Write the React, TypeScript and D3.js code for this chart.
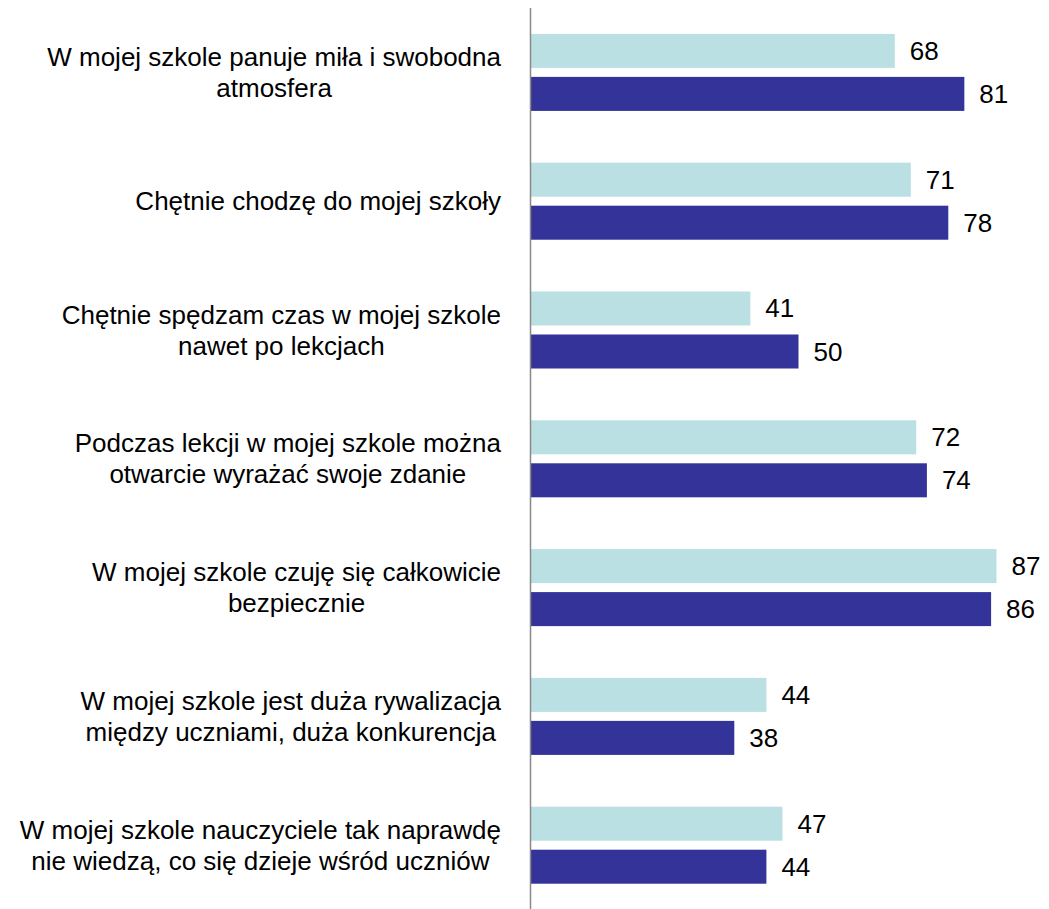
import React, { useEffect, useRef } from "react";
import * as d3 from "d3";

const categories: string[][] = [
  ["W mojej szkole panuje miła i swobodna", "atmosfera"],
  ["Chętnie chodzę do mojej szkoły"],
  ["Chętnie spędzam czas w mojej szkole", "nawet po lekcjach"],
  ["Podczas lekcji w mojej szkole można", "otwarcie wyrażać swoje zdanie"],
  ["W mojej szkole czuję się całkowicie", "bezpiecznie"],
  ["W mojej szkole jest duża rywalizacja", "między uczniami, duża konkurencja"],
  ["W mojej szkole nauczyciele tak naprawdę", "nie wiedzą, co się dzieje wśród uczniów"],
];
const seriesA: number[] = [68, 71, 41, 72, 87, 44, 47];
const seriesB: number[] = [81, 78, 50, 74, 86, 38, 44];
const seriesKeys = ["A", "B"];
const colors = ["#BAE0E3", "#333399"];

const W = 1049;
const H = 909;
const FONT = "'Liberation Sans', Arial, sans-serif";

export default function App() {
  const ref = useRef<SVGSVGElement | null>(null);

  useEffect(() => {
    const svg = d3.select(ref.current);
    svg.selectAll("*").remove();

    const x = d3.scaleLinear().domain([0, 100]).range([531, 531 + 535]);
    const idx = categories.map((_, i) => String(i));
    const y = d3.scaleBand<string>().domain(idx).range([8, 909.6]).paddingInner(0).paddingOuter(0);
    const ySub = d3
      .scaleBand<string>()
      .domain(seriesKeys)
      .range([0, y.bandwidth()])
      .paddingInner(0.209)
      .paddingOuter(0.602);

    const data = categories.map((c, i) => ({ i: String(i), lines: c, vals: [seriesA[i], seriesB[i]] }));

    const g = svg.append("g");
    data.forEach((d) => {
      const y0 = y(d.i)!;
      seriesKeys.forEach((k, si) => {
        const v = d.vals[si];
        g.append("rect")
          .attr("x", x(0))
          .attr("y", y0 + ySub(k)!)
          .attr("width", x(v) - x(0))
          .attr("height", ySub.bandwidth())
          .attr("fill", colors[si]);
        g.append("text")
          .attr("x", x(v) + 15)
          .attr("y", y0 + ySub(k)! + ySub.bandwidth() / 2)
          .attr("dominant-baseline", "central")
          .attr("font-family", FONT)
          .attr("font-size", 26)
          .attr("fill", "#000")
          .text(String(v));
      });

      // category label
      const cy = y0 + y.bandwidth() / 2;
      const lh = 31;
      const lg = g.append("g");
      const texts = d.lines.map((line, li) =>
        lg
          .append("text")
          .attr("y", cy + (li - (d.lines.length - 1) / 2) * lh)
          .attr("dominant-baseline", "central")
          .attr("text-anchor", "middle")
          .attr("font-family", FONT)
          .attr("font-size", 26)
          .attr("fill", "#000")
          .text(line)
      );
      const widths = texts.map((t) => (t.node() as SVGTextElement).getComputedTextLength());
      const maxW = d3.max(widths) || 0;
      const right = 501;
      texts.forEach((t) => t.attr("x", right - maxW / 2));
    });

    svg
      .append("line")
      .attr("x1", 530.5)
      .attr("x2", 530.5)
      .attr("y1", 8)
      .attr("y2", H)
      .attr("stroke", "#898989")
      .attr("stroke-width", 1.5);
  }, []);

  return (
    <svg
      ref={ref}
      width={W}
      height={H}
      style={{ position: "absolute", left: 0, top: 0, background: "#fff", display: "block" }}
    />
  );
}
